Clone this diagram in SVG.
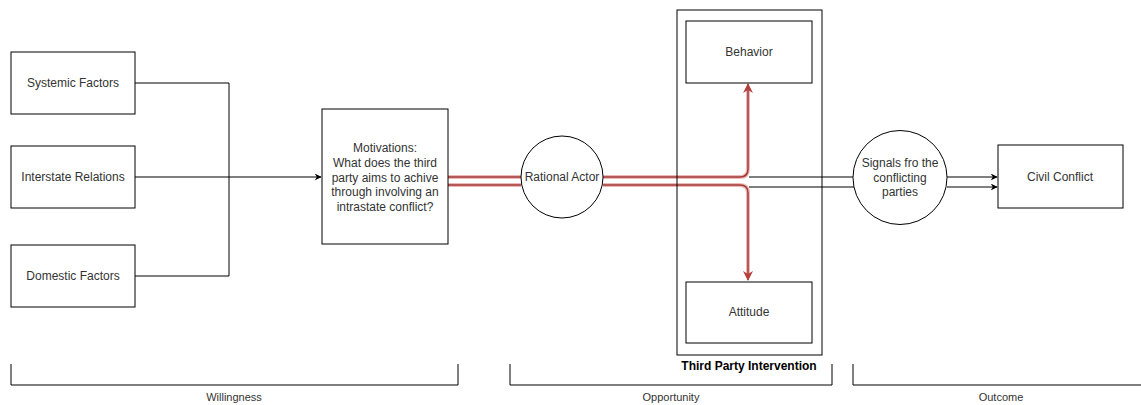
<svg xmlns="http://www.w3.org/2000/svg" width="1141" height="405" viewBox="0 0 1141 405">
<style>
  .box{fill:#fff;stroke:#000;stroke-width:1}
  .frame{fill:none;stroke:#000;stroke-width:1}
  .t{font-family:"Liberation Sans",Arial,sans-serif;font-size:12px;fill:#333;text-anchor:middle;dominant-baseline:central}
  .lbl{font-family:"Liberation Sans",Arial,sans-serif;font-size:11px;fill:#333;text-anchor:middle;dominant-baseline:central}
  .b{font-weight:bold;font-size:12px;fill:#000}
  .ln{fill:none;stroke:#000;stroke-width:1}
  .halo{fill:none;stroke:#e6a8a6;stroke-width:4;opacity:0.8}
  .red{fill:none;stroke:#a33a36;stroke-width:1.5}
  .br{fill:none;stroke:#000;stroke-width:1}
</style>
<defs>
  <marker id="ab" viewBox="0 0 10 10" refX="9" refY="5" markerWidth="7" markerHeight="7" orient="auto" markerUnits="userSpaceOnUse">
    <path d="M0,0 L10,5 L0,10 L3,5 Z" fill="#000"/>
  </marker>
  <marker id="ar" viewBox="0 0 10 10" refX="9" refY="5" markerWidth="10" markerHeight="10" orient="auto" markerUnits="userSpaceOnUse">
    <path d="M0,0 L10,5 L0,10 L3,5 Z" fill="#b3403c"/>
  </marker>
</defs>
<rect width="1141" height="405" fill="#fff"/>

<g id="connectors">
  <path class="ln" d="M135,83 H229 V276 H135"/>
  <path class="ln" d="M135,177 H321" marker-end="url(#ab)"/>
  <path class="halo" d="M448,177 H521 M448,185 H521"/>
  <path class="red" d="M448,177 H521 M448,185 H521"/>
  <path class="halo" d="M603,177 H740 Q748,177 748,169 V88"/>
  <path class="red" d="M603,177 H740 Q748,177 748,169 V84" marker-end="url(#ar)"/>
  <path class="halo" d="M603,185 H740 Q748,185 748,193 V276"/>
  <path class="red" d="M603,185 H740 Q748,185 748,193 V280" marker-end="url(#ar)"/>
  <path class="ln" d="M749,177 H854 M749,187 H854"/>
  <path class="ln" d="M947,177 H997" marker-end="url(#ab)"/>
  <path class="ln" d="M947,187 H997" marker-end="url(#ab)"/>
</g>

<g id="systemic"><rect class="box" x="11" y="52" width="124" height="62"/><text class="t" x="73" y="83">Systemic Factors</text></g>
<g id="interstate"><rect class="box" x="11" y="146" width="124" height="62"/><text class="t" x="73" y="177">Interstate Relations</text></g>
<g id="domestic"><rect class="box" x="11" y="245" width="124" height="62"/><text class="t" x="73" y="276">Domestic Factors</text></g>

<g id="motivations"><rect class="box" x="322" y="109" width="126" height="135"/>
  <text class="t" x="385" y="148">Motivations:</text>
  <text class="t" x="385" y="163">What does the third</text>
  <text class="t" x="385" y="177.5">party aims to achive</text>
  <text class="t" x="385" y="192">through involving an</text>
  <text class="t" x="385" y="207">intrastate conflict?</text>
</g>

<g id="rational"><circle class="box" cx="562" cy="177" r="41"/><text class="t" x="562" y="177">Rational Actor</text></g>

<g id="third-party"><rect class="frame" x="677" y="10" width="145" height="345"/><text class="t b" x="749" y="366">Third Party Intervention</text></g>
<g id="behavior"><rect class="box" x="686" y="21" width="126" height="62"/><text class="t" x="749" y="52">Behavior</text></g>
<g id="attitude"><rect class="box" x="686" y="282" width="126" height="61"/><text class="t" x="749" y="312">Attitude</text></g>

<g id="signals"><circle class="box" cx="900" cy="177.5" r="47"/>
  <text class="t" x="900" y="163">Signals fro the</text>
  <text class="t" x="900" y="177.5">conflicting</text>
  <text class="t" x="900" y="192">parties</text>
</g>

<g id="civil"><rect class="box" x="998" y="145" width="125" height="63"/><text class="t" x="1060" y="177">Civil Conflict</text></g>

<g id="willingness"><path class="br" d="M11,364 V385 H458 V364"/><text class="lbl" x="234" y="397">Willingness</text></g>
<g id="opportunity"><path class="br" d="M510,364 V385 H832 V364"/><text class="lbl" x="671" y="397">Opportunity</text></g>
<g id="outcome"><path class="br" d="M853,364 V385 H1141"/><text class="lbl" x="1001" y="397">Outcome</text></g>
</svg>
